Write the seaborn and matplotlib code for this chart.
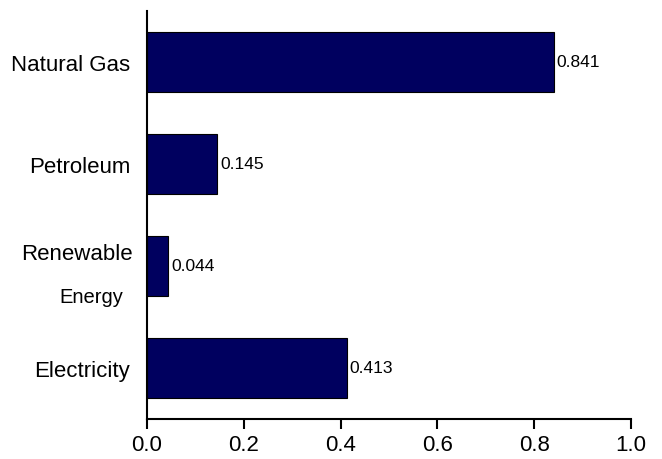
import pandas as pd
import matplotlib
matplotlib.use("Agg")
import matplotlib.pyplot as plt
import seaborn as sns

# values
categories = ["Natural Gas", "Petroleum", "Renewable Energy", "Electricity"]
values = [0.841, 0.145, 0.044, 0.413]
value_labels = ["0.841", "0.145", "0.044", "0.413"]
x_ticks = [0.0, 0.2, 0.4, 0.6, 0.8, 1.0]

sns.set_style("ticks", {"text.color": "black", "axes.labelcolor": "black",
                        "xtick.color": "black", "ytick.color": "black",
                        "axes.edgecolor": "black"})
plt.rcParams["font.family"] = ["Liberation Sans", "DejaVu Sans"]

df = pd.DataFrame({"source": categories, "value": values})

fig = plt.figure(figsize=(6.62, 4.6), dpi=100)
ax = fig.add_axes([0.222, 0.087, 0.731, 0.887])

sns.barplot(data=df, x="value", y="source", orient="h", color="#00005f",
            saturation=1, width=0.58, edgecolor="black", linewidth=0.8, ax=ax)

for i, (v, lab) in enumerate(zip(values, value_labels)):
    ax.text(v + 0.006, i, lab, va="center", ha="left", fontsize=12.5,
            color="black")

ax.set_xlim(0, 1.0)
ax.set_ylim(3.5, -0.5)
ax.set_xticks(x_ticks)
ax.set_xticklabels([f"{t:.1f}" for t in x_ticks], fontsize=16)

# the renewable label is split, with a smaller second line
ticklabels = [c if c != "Renewable Energy" else "" for c in categories]
ax.set_yticks(range(len(categories)))
ax.set_yticklabels(ticklabels, fontsize=16)
ax.tick_params(axis="y", length=0, pad=12)
ax.tick_params(axis="x", length=7, width=1.5, pad=4)
ri = categories.index("Renewable Energy")
ax.text(-0.0295, ri - 0.12, "Renewable", transform=ax.get_yaxis_transform(),
        ha="right", va="center", fontsize=16, color="black")
ax.text(-0.05, ri + 0.3, "Energy", transform=ax.get_yaxis_transform(),
        ha="right", va="center", fontsize=14.5, color="black")

ax.set_xlabel("")
ax.set_ylabel("")
sns.despine(ax=ax)
ax.spines["left"].set_linewidth(1.5)
ax.spines["bottom"].set_linewidth(1.5)

fig.savefig("out.png", dpi=100)
